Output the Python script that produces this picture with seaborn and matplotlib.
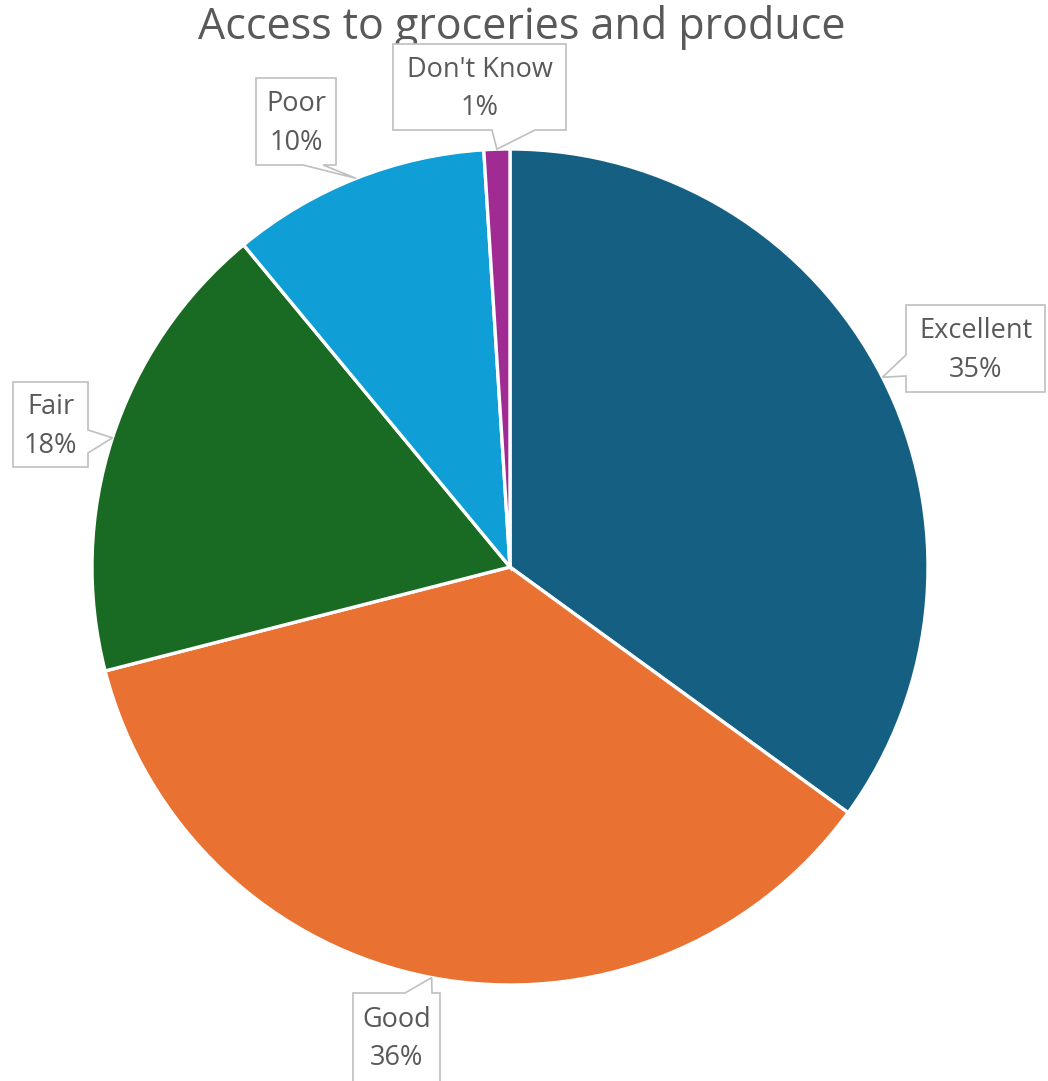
import matplotlib
matplotlib.use("Agg")
import matplotlib.pyplot as plt
from matplotlib.patches import Polygon
import numpy as np
import seaborn as sns

# Survey results
categories = ["Excellent", "Good", "Fair", "Poor", "Don't Know"]
shares = [35, 36, 18, 10, 1]
colors = ["#156082", "#E97132", "#196B24", "#0F9ED5", "#A02B93"]
title = "Access to groceries and produce"

sns.set_theme(style="white")
plt.rcParams["font.family"] = ["Open Sans", "DejaVu Sans"]

W, H = 1048, 1081
fig = plt.figure(figsize=(W / 100, H / 100), dpi=100)
ax = fig.add_axes([0, 0, 1, 1])
ax.set_xlim(0, W)
ax.set_ylim(0, H)
ax.axis("off")

def py(y):
    """Convert a top-down pixel row into the axis' bottom-up coordinate."""
    return H - y

cx, cy, R = 510, py(567), 418
wedges, _ = ax.pie(
    shares,
    colors=sns.color_palette(colors),
    startangle=90,
    counterclock=False,
    center=(cx, cy),
    radius=R,
    wedgeprops=dict(edgecolor="white", linewidth=2.4),
)
ax.set_xlim(0, W)
ax.set_ylim(0, H)
ax.set_aspect("equal")

# Callout boxes: (left, top, right, bottom) in pixel rows, side of the pointer,
# and the two points where the pointer leaves the box along that side.
callouts = {
    "Excellent": ((906, 305, 1045, 392), "left", (355, 376)),
    "Good": ((353, 993, 440, 1090), "top", (405, 432)),
    "Fair": ((13, 382, 88, 467), "right", (430, 453)),
    "Poor": ((256, 78, 336, 165), "bottom", (303, 323)),
    "Don't Know": ((393, 44, 566, 130), "bottom", (492, 535)),
}

text_color = "#595959"
for wedge, name, share in zip(wedges, categories, shares):
    mid = np.deg2rad((wedge.theta1 + wedge.theta2) / 2)
    tip = (cx + R * np.cos(mid), cy + R * np.sin(mid))
    (x0, y0, x1, y1), side, (a, b) = callouts[name]
    t, bt = py(y0), py(y1)
    if side == "left":
        pts = [(x0, t), (x1, t), (x1, bt), (x0, bt), (x0, py(b)), tip, (x0, py(a))]
    elif side == "right":
        pts = [(x0, t), (x1, t), (x1, py(a)), tip, (x1, py(b)), (x1, bt), (x0, bt)]
    elif side == "top":
        pts = [(x0, t), (a, t), tip, (b, t), (x1, t), (x1, bt), (x0, bt)]
    else:
        pts = [(x0, t), (x1, t), (x1, bt), (b, bt), tip, (a, bt), (x0, bt)]
    ax.add_patch(Polygon(pts, closed=True, facecolor="white",
                         edgecolor="#BFBFBF", linewidth=1.2, zorder=5))
    ty = min(y1, 1081) if name == "Good" else y1
    mx = (x0 + x1) / 2
    my = (y0 + ty) / 2 + 2
    ax.text(mx, py(my), f"{name}\n{share}%", ha="center", va="center",
            fontsize=19.5, color=text_color, linespacing=1.5, zorder=6)

ax.text(522, py(28), title, ha="center", va="center",
        fontsize=31, color=text_color)

fig.savefig("out.png", dpi=100)
